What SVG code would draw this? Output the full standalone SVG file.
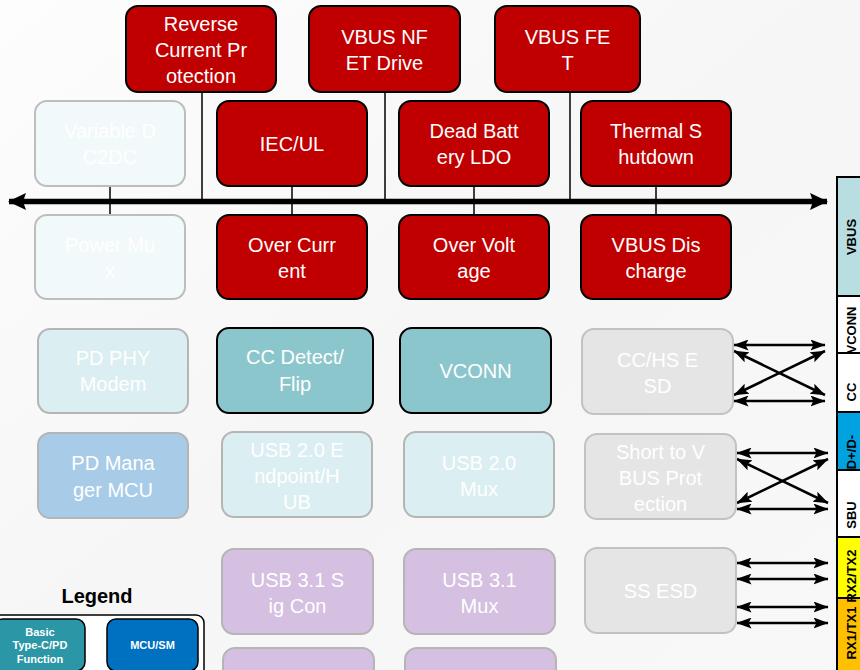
<svg xmlns="http://www.w3.org/2000/svg" width="860" height="670" viewBox="0 0 860 670">
<defs>
<linearGradient id="bg" x1="0" y1="0" x2="1" y2="1">
<stop offset="0" stop-color="#fdfdfd"/>
<stop offset="0.5" stop-color="#f6f6f6"/>
<stop offset="1" stop-color="#f8f8f8"/>
</linearGradient>
<marker id="ah" viewBox="0 0 15 11" refX="14.5" refY="5.5" markerWidth="15" markerHeight="11" orient="auto-start-reverse" markerUnits="userSpaceOnUse">
<path d="M0,0 L15,5.5 L0,11 L3,5.5 z" fill="#000"/>
</marker>
<marker id="bh" viewBox="0 0 18 17" refX="17" refY="8.5" markerWidth="18" markerHeight="17" orient="auto-start-reverse" markerUnits="userSpaceOnUse">
<path d="M0,0 L18,8.5 L0,17 L3,8.5 z" fill="#000"/>
</marker>
</defs>
<style>
.t{font-family:"Liberation Sans",Arial,sans-serif;font-size:20px;fill:#fff;text-anchor:middle}
.red{fill:#c00000;stroke:#000;stroke-width:2}
.fade{fill:#f2f9fa;stroke:#bdbdbd;stroke-width:2}
.lt{fill:#dbeef1;stroke:#b5b5b5;stroke-width:2}
.tl{fill:#8cc6cd;stroke:#000;stroke-width:2}
.mcu{fill:#a8cce8;stroke:#b5b5b5;stroke-width:2}
.gr{fill:#e5e5e5;stroke:#c2c2c2;stroke-width:2}
.pu{fill:#d5c0e1;stroke:#b5b5b5;stroke-width:2}
.ln{stroke:#000;stroke-width:1.5;fill:none}
.ar{stroke:#000;stroke-width:2.5;fill:none;marker-start:url(#ah);marker-end:url(#ah)}
.st{font-family:"Liberation Sans",Arial,sans-serif;font-size:13px;font-weight:bold;fill:#000;text-anchor:middle}
.lg{font-family:"Liberation Sans",Arial,sans-serif;font-size:11px;font-weight:bold;fill:#fff;text-anchor:middle}
</style>
<rect width="860" height="670" fill="url(#bg)"/>

<g id="connectors">
<line class="ln" x1="202" y1="92" x2="202" y2="201"/>
<line class="ln" x1="385" y1="92" x2="385" y2="201"/>
<line class="ln" x1="570" y1="92" x2="570" y2="201"/>
<line class="ln" x1="110" y1="186" x2="110" y2="215"/>
<line class="ln" x1="292" y1="186" x2="292" y2="215"/>
<line class="ln" x1="474" y1="186" x2="474" y2="215"/>
<line class="ln" x1="656" y1="186" x2="656" y2="215"/>
<line x1="9" y1="201.5" x2="827" y2="201.5" stroke="#000" stroke-width="5.5" marker-start="url(#bh)" marker-end="url(#bh)"/>
<line class="ar" x1="734" y1="345" x2="825" y2="345"/>
<line class="ar" x1="734" y1="401" x2="825" y2="401"/>
<line class="ar" x1="734" y1="351" x2="825" y2="395"/>
<line class="ar" x1="734" y1="395" x2="825" y2="351"/>
<line class="ar" x1="737" y1="453" x2="828" y2="453"/>
<line class="ar" x1="737" y1="509" x2="828" y2="509"/>
<line class="ar" x1="737" y1="459" x2="828" y2="503"/>
<line class="ar" x1="737" y1="503" x2="828" y2="459"/>
<line class="ar" x1="737" y1="563" x2="828" y2="563"/>
<line class="ar" x1="737" y1="579" x2="828" y2="579"/>
<line class="ar" x1="737" y1="607" x2="828" y2="607"/>
<line class="ar" x1="737" y1="623" x2="828" y2="623"/>
</g>

<g id="reverse-current"><rect class="red" x="126" y="6" width="150" height="86" rx="12"/><text class="t" x="201" y="31">Reverse</text><text class="t" x="201" y="57">Current Pr</text><text class="t" x="201" y="83">otection</text></g>
<g id="vbus-nfet"><rect class="red" x="309" y="6" width="151" height="86" rx="12"/><text class="t" x="384.5" y="44">VBUS NF</text><text class="t" x="384.5" y="70">ET Drive</text></g>
<g id="vbus-fet"><rect class="red" x="495" y="6" width="145" height="86" rx="12"/><text class="t" x="567.5" y="44">VBUS FE</text><text class="t" x="567.5" y="70">T</text></g>

<g id="variable-dc2dc"><rect class="fade" x="35" y="101" width="150" height="85" rx="12"/><text class="t" x="110" y="138">Variable D</text><text class="t" x="110" y="164">C2DC</text></g>
<g id="iec-ul"><rect class="red" x="217" y="101" width="150" height="85" rx="12"/><text class="t" x="292" y="151">IEC/UL</text></g>
<g id="dead-battery"><rect class="red" x="399" y="101" width="150" height="85" rx="12"/><text class="t" x="474" y="138">Dead Batt</text><text class="t" x="474" y="164">ery LDO</text></g>
<g id="thermal"><rect class="red" x="581" y="101" width="150" height="85" rx="12"/><text class="t" x="656" y="138">Thermal S</text><text class="t" x="656" y="164">hutdown</text></g>

<g id="power-mux"><rect class="fade" x="35" y="215" width="150" height="84" rx="12"/><text class="t" x="110" y="252">Power Mu</text><text class="t" x="110" y="278">x</text></g>
<g id="over-current"><rect class="red" x="217" y="215" width="150" height="84" rx="12"/><text class="t" x="292" y="252">Over Curr</text><text class="t" x="292" y="278">ent</text></g>
<g id="over-voltage"><rect class="red" x="399" y="215" width="150" height="84" rx="12"/><text class="t" x="474" y="252">Over Volt</text><text class="t" x="474" y="278">age</text></g>
<g id="vbus-discharge"><rect class="red" x="581" y="215" width="150" height="84" rx="12"/><text class="t" x="656" y="252">VBUS Dis</text><text class="t" x="656" y="278">charge</text></g>

<g id="pd-phy"><rect class="lt" x="38" y="329" width="150" height="84" rx="12"/><text class="t" x="113" y="365">PD PHY</text><text class="t" x="113" y="391">Modem</text></g>
<g id="cc-detect"><rect class="tl" x="217" y="328" width="156" height="85" rx="12"/><text class="t" x="295" y="364">CC Detect/</text><text class="t" x="295" y="391">Flip</text></g>
<g id="vconn"><rect class="tl" x="400" y="328" width="151" height="85" rx="12"/><text class="t" x="475.5" y="378">VCONN</text></g>
<g id="cc-hs-esd"><rect class="gr" x="582" y="329" width="151" height="85" rx="12"/><text class="t" x="657.5" y="367">CC/HS E</text><text class="t" x="657.5" y="393">SD</text></g>

<g id="pd-manager"><rect class="mcu" x="38" y="433" width="150" height="85" rx="12"/><text class="t" x="113" y="470">PD Mana</text><text class="t" x="113" y="497">ger MCU</text></g>
<g id="usb2-endpoint"><rect class="lt" x="222" y="432" width="150" height="85" rx="12"/><text class="t" x="297" y="457">USB 2.0 E</text><text class="t" x="297" y="483">ndpoint/H</text><text class="t" x="297" y="509">UB</text></g>
<g id="usb2-mux"><rect class="lt" x="404" y="432" width="150" height="85" rx="12"/><text class="t" x="479" y="470">USB 2.0</text><text class="t" x="479" y="496">Mux</text></g>
<g id="short-vbus"><rect class="gr" x="585" y="434" width="151" height="85" rx="12"/><text class="t" x="660.5" y="459">Short to V</text><text class="t" x="660.5" y="485">BUS Prot</text><text class="t" x="660.5" y="511">ection</text></g>

<g id="usb31-sigcon"><rect class="pu" x="222" y="549" width="151" height="85" rx="12"/><text class="t" x="297.5" y="587">USB 3.1 S</text><text class="t" x="297.5" y="613">ig Con</text></g>
<g id="usb31-mux"><rect class="pu" x="404" y="549" width="151" height="85" rx="12"/><text class="t" x="479.5" y="587">USB 3.1</text><text class="t" x="479.5" y="613">Mux</text></g>
<g id="ss-esd"><rect class="gr" x="585" y="548" width="151" height="85" rx="12"/><text class="t" x="660.5" y="598">SS ESD</text></g>

<g id="bottom-left"><rect class="pu" x="223" y="648" width="151" height="60" rx="12"/></g>
<g id="bottom-right"><rect class="pu" x="405" y="648" width="151" height="60" rx="12"/></g>

<g id="connector-strip">
<rect x="837" y="177" width="30" height="119" fill="#b8dee1" stroke="#000" stroke-width="2"/>
<rect x="837" y="296" width="30" height="57" fill="#fff" stroke="#000" stroke-width="2"/>
<rect x="837" y="353" width="30" height="59" fill="#fff" stroke="#000" stroke-width="2"/>
<rect x="837" y="412" width="30" height="58" fill="#00a2e0" stroke="#000" stroke-width="2"/>
<rect x="837" y="470" width="30" height="67" fill="#fff" stroke="#000" stroke-width="2"/>
<rect x="837" y="537" width="30" height="61" fill="#ffff00" stroke="#000" stroke-width="2"/>
<rect x="837" y="598" width="30" height="80" fill="#ffc000" stroke="#000" stroke-width="2"/>
<text class="st" transform="translate(856,237) rotate(-90)">VBUS</text>
<text class="st" transform="translate(856,330) rotate(-90)">VCONN</text>
<text class="st" transform="translate(856,392) rotate(-90)">CC</text>
<text class="st" transform="translate(856,452) rotate(-90)">D+/D-</text>
<text class="st" transform="translate(856,515) rotate(-90)">SBU</text>
<text class="st" transform="translate(856,576) rotate(-90)">RX2/TX2</text>
<text class="st" transform="translate(856,633) rotate(-90)">RX1/TX1</text>
</g>

<g id="legend">
<text x="97" y="603" font-family="'Liberation Sans',Arial,sans-serif" font-size="20" font-weight="bold" text-anchor="middle" fill="#000">Legend</text>
<rect x="-10" y="615" width="214" height="70" rx="8" fill="#fff" stroke="#000" stroke-width="1.5"/>
<g id="legend-basic"><rect x="-6" y="619" width="91" height="52" rx="9" fill="#2b96a6" stroke="#000" stroke-width="1.5"/><text class="lg" x="40" y="636">Basic</text><text class="lg" x="40" y="649">Type-C/PD</text><text class="lg" x="40" y="663">Function</text></g>
<g id="legend-mcu"><rect x="107" y="619" width="91" height="52" rx="9" fill="#0070c0" stroke="#000" stroke-width="1.5"/><text class="lg" x="152.5" y="649">MCU/SM</text></g>
</g>
</svg>
